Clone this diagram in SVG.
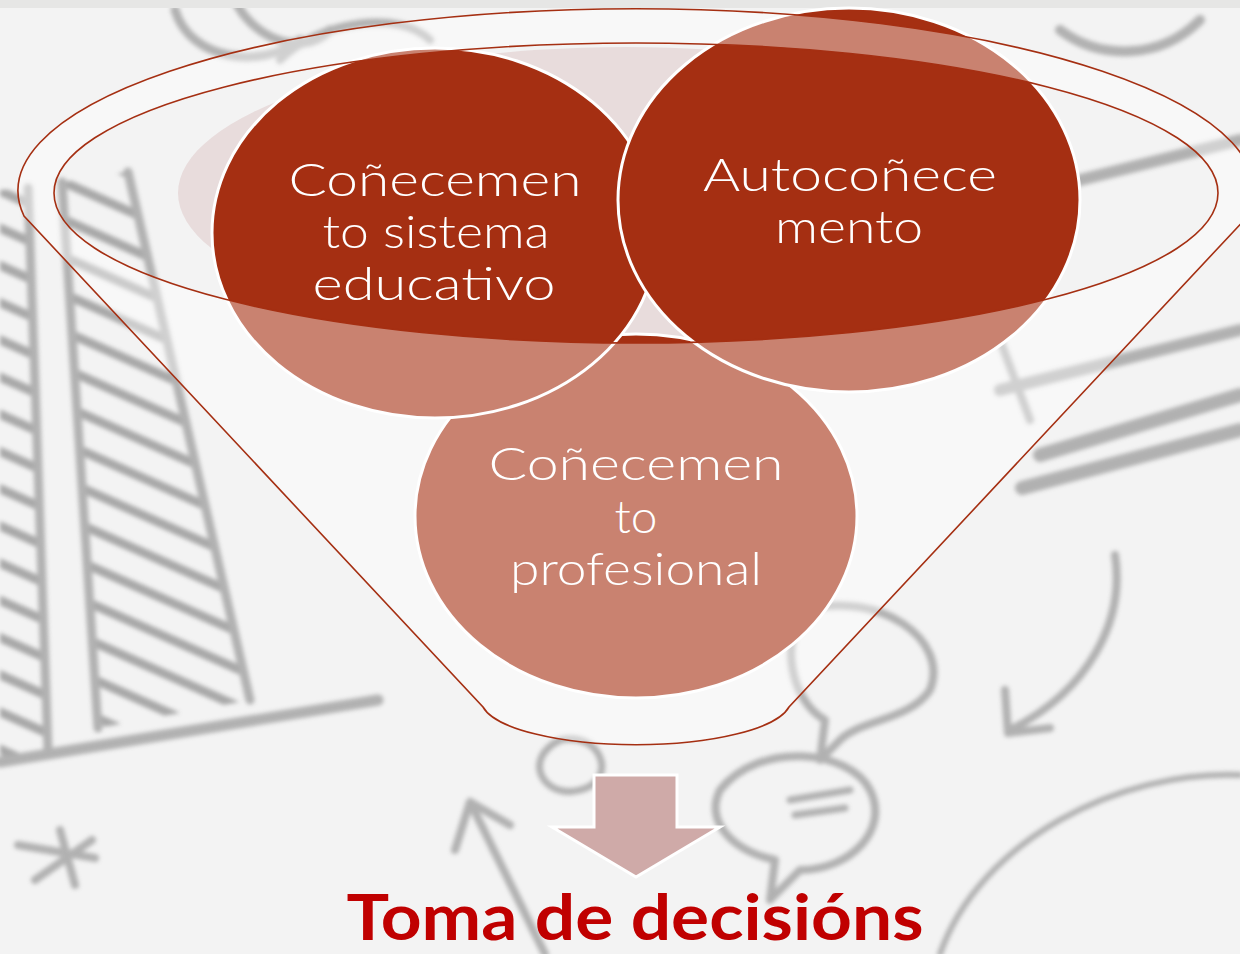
<svg xmlns="http://www.w3.org/2000/svg" width="1240" height="954" viewBox="0 0 1240 954">
  <defs>
    <filter id="blur" x="-10%" y="-10%" width="120%" height="120%">
      <feGaussianBlur stdDeviation="2.2"/>
    </filter>
    <pattern id="hatch" patternUnits="userSpaceOnUse" width="34" height="34" patternTransform="rotate(24)">
      <rect x="0" y="0" width="34" height="9" fill="#8f8f8f"/>
    </pattern>
    <style>
      .sk { fill: none; stroke: #9b9b9b; stroke-linecap: round; stroke-linejoin: round; }
      .dark { fill: #a52f12; stroke: #ffffff; stroke-width: 3; }
      .lbl { font-family: Lato, "Liberation Sans", sans-serif; font-size: 45px; fill: #ffffff; text-anchor: middle; font-weight: 300; }
      .rim { fill: none; stroke: #a52f12; stroke-width: 1.6; }
    </style>
  </defs>

  <!-- background (blurred sketch photo) -->
  <g id="background">
    <rect x="0" y="0" width="1240" height="954" fill="#f3f3f3"/>
    <g filter="url(#blur)" opacity="0.75">
      <polygon points="0,190 28,188 48,750 0,760" fill="url(#hatch)"/>
      <polygon points="62,182 128,172 250,700 98,728" fill="url(#hatch)"/>
      <path class="sk" stroke-width="9" d="M128,172 L250,700 M62,182 L98,728 M28,188 L48,750"/>
      <path class="sk" stroke-width="11" d="M0,762 L378,700"/>
      <path class="sk" stroke-width="8" d="M18,845 L95,858 M60,830 L75,885 M35,880 L92,840"/>
      <path class="sk" stroke-width="14" d="M1022,488 L1240,430 M1040,455 L1240,395"/>
      <path class="sk" stroke-width="12" d="M1000,390 L1240,330 M1080,180 L1240,140"/>
      <path class="sk" stroke-width="8" d="M1115,555 C1125,620 1090,690 1010,730 M1005,690 L1008,733 L1050,728"/>
      <path class="sk" stroke-width="6" d="M940,954 C980,840 1120,770 1240,775"/>
      <path class="sk" stroke-width="8" d="M805,610 C880,590 950,640 930,690 C910,720 860,720 840,740 L820,760 L825,720 C790,700 780,640 805,610 Z"/>
      <path class="sk" stroke-width="8" d="M720,790 C760,740 850,750 870,790 C890,830 850,870 800,870 L770,900 L775,860 C730,850 705,820 720,790 Z"/>
      <path class="sk" stroke-width="7" d="M790,800 L850,790 M795,815 L845,808"/>
      <path class="sk" stroke-width="7" d="M560,740 C520,760 545,800 580,790 C620,780 600,730 560,740 Z"/>
      <path class="sk" stroke-width="8" d="M470,802 L545,954 M470,802 L455,850 M470,802 L510,825"/>
      <path class="sk" stroke-width="9" d="M175,10 C190,60 260,70 300,40 M235,0 C250,35 300,60 330,30"/>
      <path class="sk" stroke-width="8" d="M280,60 C320,20 400,10 430,40"/>
      <path class="sk" stroke-width="10" d="M1060,30 C1100,60 1160,60 1200,20"/>
      <path class="sk" stroke-width="8" d="M1000,340 L1030,420"/>
    </g>
    <rect x="0" y="0" width="1240" height="8" fill="#e6e6e5"/>
  </g>

  <!-- pale opening shape -->
  <g id="opening">
    <ellipse cx="626" cy="193" rx="448" ry="146" fill="#e8dcdc"/>
  </g>

  <!-- nodes -->
  <g id="node-profesional">
    <ellipse class="dark" cx="636" cy="516" rx="221" ry="182"/>
    <text class="lbl" x="636" y="480" textLength="295" lengthAdjust="spacingAndGlyphs">Coñecemen</text>
    <text class="lbl" x="636" y="533" textLength="43" lengthAdjust="spacingAndGlyphs">to</text>
    <text class="lbl" x="636" y="585" textLength="252" lengthAdjust="spacingAndGlyphs">profesional</text>
  </g>

  <g id="node-sistema">
    <ellipse class="dark" cx="435" cy="233" rx="223" ry="185"/>
    <text class="lbl" x="435" y="196" textLength="293" lengthAdjust="spacingAndGlyphs">Coñecemen</text>
    <text class="lbl" x="436" y="248" textLength="227" lengthAdjust="spacingAndGlyphs">to sistema</text>
    <text class="lbl" x="434" y="300" textLength="243" lengthAdjust="spacingAndGlyphs">educativo</text>
  </g>

  <g id="node-auto">
    <ellipse class="dark" cx="849" cy="200" rx="231" ry="192"/>
    <text class="lbl" x="850" y="191" textLength="294" lengthAdjust="spacingAndGlyphs">Autocoñece</text>
    <text class="lbl" x="849" y="243" textLength="148" lengthAdjust="spacingAndGlyphs">mento</text>
  </g>

  <!-- funnel -->
  <g id="funnel">
    <path fill="#ffffff" fill-opacity="0.4" fill-rule="evenodd"
      d="M24,216 A618,182 0 1 1 1248,216 L789,707 A155,45 0 0 1 483,707 Z
         M54,193 A582,150 0 1 0 1218,193 A582,150 0 1 0 54,193 Z"/>
    <path class="rim" d="M24,216 A618,182 0 1 1 1248,216 L789,707 A155,45 0 0 1 483,707 Z"/>
    <ellipse class="rim" cx="636" cy="193" rx="582" ry="150"/>
  </g>

  <!-- connector -->
  <g id="connectors">
    <path d="M594,775 L677,775 L677,827 L720,827 L636,877 L552,827 L594,827 Z" fill="#cfaaa8" stroke="#ffffff" stroke-width="3" stroke-linejoin="miter"/>
  </g>

  <g id="node-decision">
    <text x="635" y="940" font-family="Lato, 'Liberation Sans', sans-serif" font-weight="bold" font-size="64" fill="#c00000" text-anchor="middle" textLength="577" lengthAdjust="spacingAndGlyphs">Toma de decisións</text>
  </g>
</svg>
